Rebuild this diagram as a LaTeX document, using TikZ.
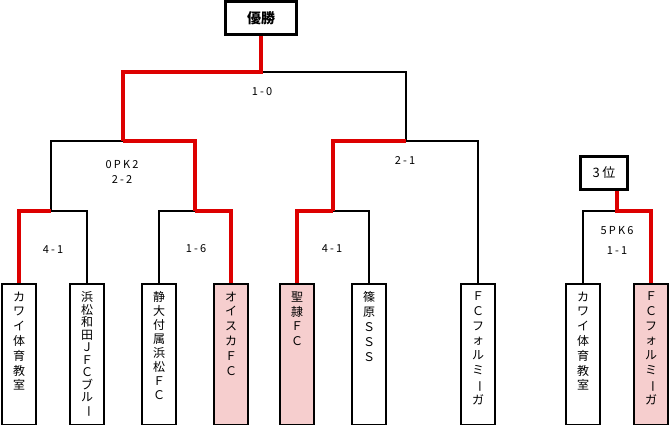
\documentclass[tikz,border=0pt]{standalone}
\usepackage{fontspec}
\setmainfont{Noto Sans CJK JP}
\newfontfamily\scorefont[LetterSpace=20]{Noto Sans CJK JP}
\usetikzlibrary{positioning}

\definecolor{winred}{RGB}{221,0,0}
\definecolor{winpink}{RGB}{246,206,206}
\newcommand{\chobar}{\rotatebox[origin=c]{-90}{ー}}

\begin{document}
\begin{tikzpicture}[
    x=1pt, y=-1pt,
    team/.style={draw, line width=2.8pt, minimum width=34pt, minimum height=141pt,
        inner sep=0pt, anchor=north, fill=white},
    won/.style={team, fill=winpink},
    teamname/.style={anchor=north, align=center, inner sep=0pt,
        font=\fontsize{12pt}{14.8pt}\selectfont},
    title/.style={draw, line width=2.8pt, inner sep=0pt, minimum height=33pt},
    score/.style={inner sep=0pt, align=center, font=\fontsize{11pt}{15pt}\scorefont},
    lost/.style={line width=2.6pt, black},
    win/.style={line width=3.4pt, winred}
]
    \useasboundingbox (0,0) rectangle (670,425);

    % titles
    \node[title, minimum width=71pt, font=\fontsize{14pt}{16pt}\selectfont\bfseries] (champ) at (261,18) {優勝};
    \node[title, minimum width=47pt, font=\fontsize{13pt}{16pt}\scorefont] (third) at (604,173) {3位};

    % teams
    \node[team] (kawai) at (19,282.5) {};
    \node[team] (hamamatsu) at (87,282.5) {};
    \node[team] (shizudai) at (159,282.5) {};
    \node[won] (oisca) at (231,282.5) {};
    \node[won] (seirei) at (297,282.5) {};
    \node[team] (shinohara) at (369,282.5) {};
    \node[team] (formiga) at (478,282.5) {};
    \node[team] (kawai3) at (583,282.5) {};
    \node[won] (formiga3) at (651,282.5) {};

    \node[teamname] (kawai-t) at ([yshift=-9pt]kawai.north) {カ\\ワ\\イ\\体\\育\\教\\室};
    \node[teamname, font=\fontsize{12pt}{12.5pt}\selectfont] (hamamatsu-t) at ([yshift=-9pt]hamamatsu.north)
        {浜\\松\\和\\田\\Ｊ\\Ｆ\\Ｃ\\ブ\\ル\\\chobar};
    \node[teamname, font=\fontsize{12pt}{14pt}\selectfont] (shizudai-t) at ([yshift=-9pt]shizudai.north)
        {静\\大\\付\\属\\浜\\松\\Ｆ\\Ｃ};
    \node[teamname] (oisca-t) at ([yshift=-9pt]oisca.north) {オ\\イ\\ス\\カ\\Ｆ\\Ｃ};
    \node[teamname] (seirei-t) at ([yshift=-9pt]seirei.north) {聖\\隷\\Ｆ\\Ｃ};
    \node[teamname] (shinohara-t) at ([yshift=-9pt]shinohara.north) {篠\\原\\Ｓ\\Ｓ\\Ｓ};
    \node[teamname] (formiga-t) at ([yshift=-9pt]formiga.north) {Ｆ\\Ｃ\\フ\\ォ\\ル\\ミ\\\chobar\\ガ};
    \node[teamname] (kawai3-t) at ([yshift=-9pt]kawai3.north) {カ\\ワ\\イ\\体\\育\\教\\室};
    \node[teamname] (formiga3-t) at ([yshift=-9pt]formiga3.north) {Ｆ\\Ｃ\\フ\\ォ\\ル\\ミ\\\chobar\\ガ};

    % bracket junctions
    \coordinate (r1a) at (51,211);
    \coordinate (r1b) at (195,211);
    \coordinate (r1c) at (333,211);
    \coordinate (sf1) at (123,141);
    \coordinate (sf2) at (406,141);
    \coordinate (fin) at (261,72);
    \coordinate (thd) at (617,211);

    % losing paths
    \draw[lost] (hamamatsu.north) |- (r1a);
    \draw[lost] (shizudai.north) |- (r1b);
    \draw[lost] (shinohara.north) |- (r1c);
    \draw[lost] (r1a) |- (sf1);
    \draw[lost] (formiga.north) |- (sf2);
    \draw[lost] (sf2) |- (fin);
    \draw[lost] (kawai3.north) |- (thd);

    % winning paths
    \draw[win] (kawai.north) |- (r1a);
    \draw[win] (oisca.north) |- (r1b);
    \draw[win] (seirei.north) |- (r1c);
    \draw[win] (r1b) |- (sf1);
    \draw[win] (r1c) |- (sf2);
    \draw[win] (sf1) |- (fin) -- (champ.south);
    \draw[win] (formiga3.north) |- (thd) -- (thd |- third.south);

    % scores
    \node[score] (s-fin) at (262,92) {1-0};
    \node[score] (s-sf1) at (122,172) {0PK2\\2-2};
    \node[score] (s-sf2) at (405,161) {2-1};
    \node[score] (s-r1a) at (53,250) {4-1};
    \node[score] (s-r1b) at (196,249) {1-6};
    \node[score] (s-r1c) at (332,249) {4-1};
    \node[score] (s-thd) at (617,240) {5PK6\\[5pt]1-1};
\end{tikzpicture}
\end{document}
